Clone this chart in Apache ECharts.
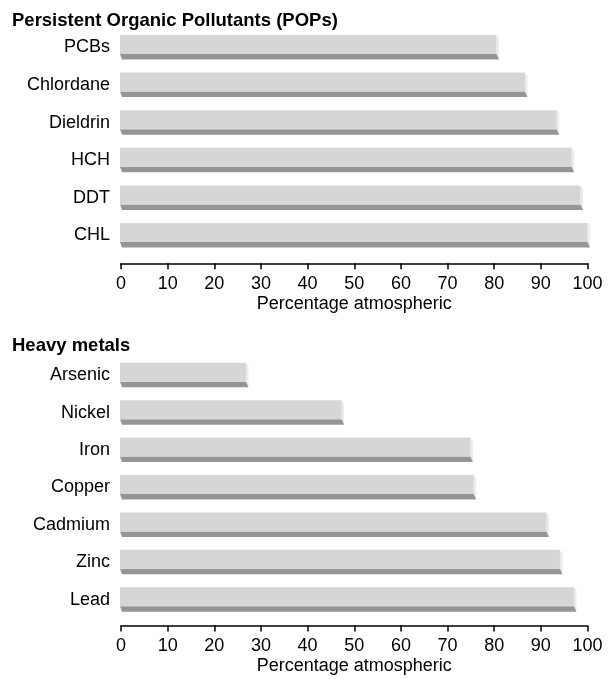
<!DOCTYPE html>
<html>
<head>
<meta charset="utf-8">
<script src="https://cdn.jsdelivr.net/npm/echarts@6/dist/echarts.min.js"></script>
<style>html,body{margin:0;padding:0;background:#fff}#c{width:611px;height:679px}</style>
</head>
<body>
<div id="c"></div>
<script>
const popCategories = ['PCBs', 'Chlordane', 'Dieldrin', 'HCH', 'DDT', 'CHL'];
const popValues = [80.5, 86.6, 93.4, 96.6, 98.5, 100];
const metalCategories = ['Arsenic', 'Nickel', 'Iron', 'Copper', 'Cadmium', 'Zinc', 'Lead'];
const metalValues = [26.8, 47.3, 74.9, 75.6, 91.2, 94.1, 97.1];
const xTicks = [0, 10, 20, 30, 40, 50, 60, 70, 80, 90, 100];
const titleTop = 'Persistent Organic Pollutants (POPs)';
const titleBottom = 'Heavy metals';
const axisName = 'Percentage atmospheric';

const FONT = '"Liberation Sans", Arial, Helvetica, sans-serif';
const FS = 18;

function renderBar(params, api) {
  const v = api.value(0), c = api.value(1);
  const p1 = api.coord([v, c]);
  const p0 = api.coord([0, c]);
  const yc = p1[1];
  const yt = yc - 12.5, yb = yt + 19, ys = yb + 5.5;
  const x0 = p0[0] - 1, x1 = p1[0];
  return {
    type: 'group',
    children: [
      { type: 'polygon', shape: { points: [[x1, yt + 0.5], [x1 + 2.5, yt + 3], [x1 + 2.5, ys], [x1, yb]] }, style: { fill: '#ebebeb' } },
      { type: 'polygon', shape: { points: [[x0, yb], [x1, yb], [x1 + 2.5, ys], [x0 + 2, ys]] }, style: { fill: '#959595' } },
      { type: 'rect', shape: { x: x0, y: yt, width: x1 - x0, height: yb - yt }, style: { fill: '#d6d6d6' } }
    ]
  };
}

function xAxisFor(gridIndex, offset) {
  return {
    type: 'value', gridIndex: gridIndex, min: 0, max: 100, interval: 10,
    position: 'bottom', offset: offset,
    name: axisName, nameLocation: 'middle', nameGap: 32,
    nameTextStyle: { color: '#000', fontSize: FS, fontFamily: FONT },
    axisLine: { show: true, lineStyle: { color: '#000', width: 1.5 } },
    axisTick: { show: true, length: 6, lineStyle: { color: '#000', width: 1.5 } },
    axisLabel: { color: '#000', fontSize: FS, fontFamily: FONT, margin: 12,
      formatter: function (v) { return xTicks.indexOf(v) >= 0 ? String(v) : ''; } },
    splitLine: { show: false }
  };
}
function yAxisFor(gridIndex, cats) {
  return {
    type: 'category', gridIndex: gridIndex, data: cats, inverse: true,
    axisLine: { show: false }, axisTick: { show: false },
    axisLabel: { color: '#000', fontSize: FS, fontFamily: FONT, margin: 11 }
  };
}

const chart = echarts.init(document.getElementById('c'), null, { renderer: 'canvas' });
chart.setOption({
  animation: false,
  title: [
    { text: titleTop, left: 12, top: 11, padding: 0, textStyle: { fontSize: 18.5, fontWeight: 'bold', color: '#000', fontFamily: FONT } },
    { text: titleBottom, left: 12, top: 336, padding: 0, textStyle: { fontSize: 18.5, fontWeight: 'bold', color: '#000', fontFamily: FONT } }
  ],
  grid: [
    { left: 121, right: 23.5, top: 28.7, height: 225.6 },
    { left: 121, right: 23.5, top: 356.5, height: 262 }
  ],
  xAxis: [xAxisFor(0, 9), xAxisFor(1, 7)],
  yAxis: [yAxisFor(0, popCategories), yAxisFor(1, metalCategories)],
  series: [
    { type: 'custom', xAxisIndex: 0, yAxisIndex: 0, renderItem: renderBar,
      encode: { x: 0, y: 1 }, data: popValues.map((v, i) => [v, i]) },
    { type: 'custom', xAxisIndex: 1, yAxisIndex: 1, renderItem: renderBar,
      encode: { x: 0, y: 1 }, data: metalValues.map((v, i) => [v, i]) }
  ]
});
</script>
</body>
</html>
